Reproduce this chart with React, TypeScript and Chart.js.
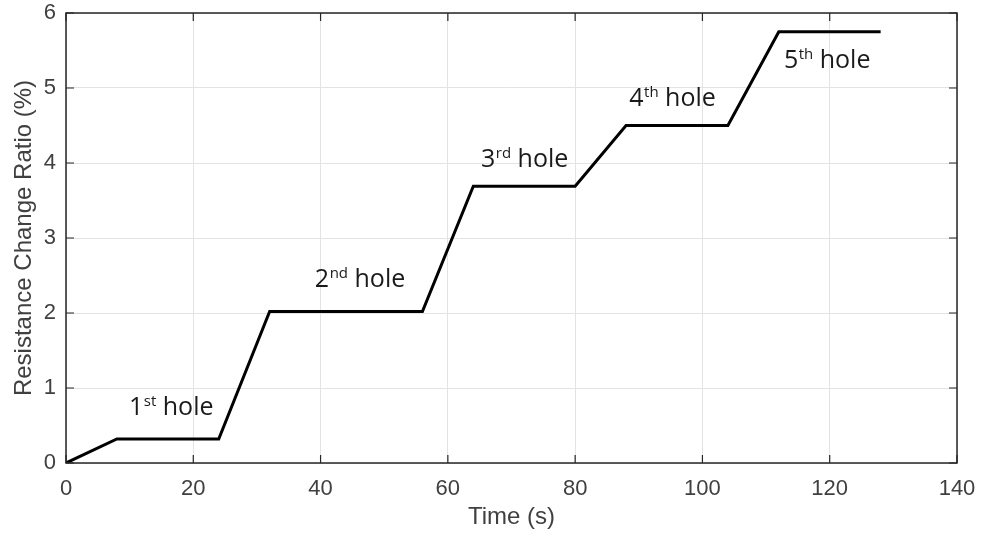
import React, { useEffect, useRef } from "react";
import { Chart, registerables } from "chart.js";

Chart.register(...registerables);

// Data
const timeValues = [0, 8, 24, 32, 56, 64, 80, 88, 104, 112, 128];
const ratioValues = [0, 0.32, 0.32, 2.02, 2.02, 3.69, 3.69, 4.5, 4.5, 5.75, 5.75];
const xTickValues = [0, 20, 40, 60, 80, 100, 120, 140];
const yTickValues = [0, 1, 2, 3, 4, 5, 6];

// Annotations (data coordinates: left edge, baseline)
const labelNums = ["1", "2", "3", "4", "5"];
const labelSups = ["st", "nd", "rd", "th", "th"];
const labelX = [9.9, 39.1, 65.2, 88.5, 112.8];
const labelY = [0.64, 2.35, 3.95, 4.76, 5.27];

const X_TITLE = "Time (s)";
const Y_TITLE = "Resistance Change Ratio (%)";

const TEXT_COLOR = "#404040";
const AXIS_COLOR = "#262626";
const GRID_COLOR = "#e3e3e3";

const boxPlugin = {
  id: "matlabBox",
  afterDatasetsDraw(chart: any) {
    const { ctx, chartArea, scales } = chart;
    const { left, right, top, bottom } = chartArea;
    ctx.save();
    ctx.strokeStyle = AXIS_COLOR;
    ctx.lineWidth = 1.5;
    ctx.strokeRect(left, top, right - left, bottom - top);
    const tl = 8;
    ctx.lineWidth = 1.2;
    ctx.beginPath();
    xTickValues.forEach((v) => {
      const px = scales.x.getPixelForValue(v);
      ctx.moveTo(px, bottom);
      ctx.lineTo(px, bottom - tl);
      ctx.moveTo(px, top);
      ctx.lineTo(px, top + tl);
    });
    yTickValues.forEach((v) => {
      const py = scales.y.getPixelForValue(v);
      ctx.moveTo(left, py);
      ctx.lineTo(left + tl, py);
      ctx.moveTo(right, py);
      ctx.lineTo(right - tl, py);
    });
    ctx.stroke();

    // annotations
    ctx.fillStyle = "#1a1a1a";
    ctx.textBaseline = "alphabetic";
    ctx.textAlign = "left";
    labelNums.forEach((n, i) => {
      let x = scales.x.getPixelForValue(labelX[i]);
      const y = scales.y.getPixelForValue(labelY[i]);
      ctx.font = "25px 'Open Sans'";
      ctx.fillText(n, x, y);
      x += ctx.measureText(n).width + 0.5;
      ctx.font = "15px 'Open Sans'";
      ctx.fillText(labelSups[i], x, y - 9);
      x += ctx.measureText(labelSups[i]).width;
      ctx.font = "25px 'Open Sans'";
      ctx.fillText(" hole", x, y);
    });
    ctx.restore();
  },
};

export default function App() {
  const ref = useRef<HTMLCanvasElement | null>(null);
  useEffect(() => {
    if (!ref.current) return;
    const chart = new Chart(ref.current, {
      type: "line",
      data: {
        datasets: [
          {
            data: timeValues.map((t, i) => ({ x: t, y: ratioValues[i] })),
            borderColor: "#000000",
            borderWidth: 3,
            pointRadius: 0,
            tension: 0,
            fill: false,
            borderJoinStyle: "miter",
          },
        ],
      },
      options: {
        responsive: false,
        animation: false,
        layout: { padding: { top: 13, right: 25, left: 0, bottom: 0 } },
        plugins: { legend: { display: false }, tooltip: { enabled: false } },
        scales: {
          x: {
            type: "linear",
            min: 0,
            max: 140,
            afterBuildTicks: (s: any) => {
              s.ticks = xTickValues.map((v) => ({ value: v }));
            },
            afterFit: (s: any) => {
              s.height = 76;
              s.paddingLeft = 0;
              s.paddingRight = 0;
            },
            grid: { color: GRID_COLOR, drawTicks: false, lineWidth: 1 },
            border: { display: false },
            ticks: {
              color: TEXT_COLOR,
              font: { family: "'Liberation Sans', Arial", size: 22 },
              padding: 13,
              maxRotation: 0,
            },
            title: {
              display: true,
              text: X_TITLE,
              color: TEXT_COLOR,
              font: { family: "'Liberation Sans', Arial", size: 24 },
              padding: { top: 0, bottom: 7.5 },
            },
          },
          y: {
            type: "linear",
            min: 0,
            max: 6,
            afterBuildTicks: (s: any) => {
              s.ticks = yTickValues.map((v) => ({ value: v }));
            },
            afterFit: (s: any) => {
              s.width = 66;
              s.paddingTop = 0;
              s.paddingBottom = 0;
            },
            grid: { color: GRID_COLOR, drawTicks: false, lineWidth: 1 },
            border: { display: false },
            ticks: {
              color: TEXT_COLOR,
              font: { family: "'Liberation Sans', Arial", size: 22 },
              padding: 10,
            },
            title: {
              display: true,
              text: Y_TITLE,
              color: TEXT_COLOR,
              font: { family: "'Liberation Sans', Arial", size: 24 },
              padding: { top: 9.5, bottom: 0 },
            },
          },
        },
      },
      plugins: [boxPlugin],
    });
    return () => chart.destroy();
  }, []);
  return (
    <canvas
      ref={ref}
      width={982}
      height={539}
      style={{ position: "absolute", left: 0, top: 0, display: "block", background: "#fff" }}
    />
  );
}
